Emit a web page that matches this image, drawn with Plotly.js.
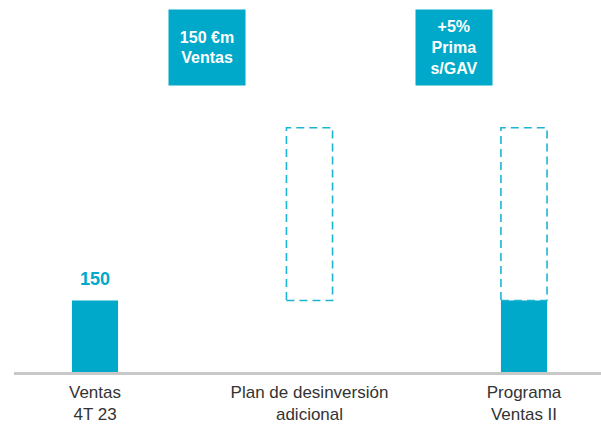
<!DOCTYPE html>
<html>
<head>
<meta charset="utf-8">
<script src="https://cdn.plot.ly/plotly-3.0.1.min.js"></script>
<style>html,body{margin:0;padding:0;background:#fff;}#chart{width:601px;height:427px;}</style>
</head>
<body>
<div id="chart"></div>
<script>
// Data
const categories = ["Ventas<br>4T 23", "Plan de desinversión<br>adicional", "Programa<br>Ventas II"];
const solidValues = [150, null, 150];
const dashedBase = [null, 150, 150];
const dashedValues = [null, 362, 362];
const valueLabels = ["150", "", ""];
const calloutTexts = ["150 €m<br>Ventas", "+5%<br>Prima<br>s/GAV"];

const TEAL = "#00a9ca";
const DASH_TEAL = "#1db4d2";
const barWidth = 0.215;
const xs = categories.map((_, i) => i);

const traces = [{
  type: "bar",
  x: xs,
  y: solidValues,
  width: barWidth,
  marker: {color: TEAL, line: {width: 0}},
  hoverinfo: "skip",
  showlegend: false
}];

const shapes = [];
dashedValues.forEach((v, i) => {
  if (v == null) return;
  shapes.push({
    type: "rect", xref: "x", yref: "y",
    x0: i - barWidth / 2, x1: i + barWidth / 2,
    y0: dashedBase[i], y1: dashedBase[i] + v,
    line: {color: DASH_TEAL, width: 1.6, dash: "8px,5px"},
    fillcolor: "rgba(0,0,0,0)"
  });
});

const annotations = [];
valueLabels.forEach((t, i) => {
  if (!t) return;
  annotations.push({
    x: i, y: solidValues[i], xref: "x", yref: "y",
    text: t, showarrow: false, yanchor: "bottom", yshift: 9,
    font: {family: "Liberation Sans, Arial, sans-serif", size: 18, color: TEAL, weight: 600}
  });
});
const calloutPos = [{x: 198 / 601, y: 1 - 47.5 / 372}, {x: 450 / 601, y: 1 - 47.5 / 372}];
calloutTexts.forEach((t, i) => {
  annotations.push({
    xref: "paper", yref: "paper", x: calloutPos[i].x, y: calloutPos[i].y,
    xanchor: "center", yanchor: "middle",
    text: "<b>" + t + "</b>", showarrow: false,
    width: 76, height: 75, borderpad: 0,
    bgcolor: TEAL, align: "center", valign: "middle",
    font: {family: "Liberation Sans, Arial, sans-serif", size: 16, color: "#ffffff"}
  });
});

const layout = {
  width: 601, height: 427,
  margin: {l: 14, r: 0, t: 0, b: 55},
  paper_bgcolor: "#ffffff", plot_bgcolor: "#ffffff",
  showlegend: false,
  font: {family: "Liberation Sans, Arial, sans-serif", size: 17, color: "#333333"},
  xaxis: {
    range: [-0.3776, 2.359], tickvals: xs, ticktext: categories,
    showgrid: false, zeroline: false, showline: true,
    linecolor: "#c8c8c8", linewidth: 2.5, ticks: "", fixedrange: true,
    ticklabelstandoff: 3,
    tickfont: {size: 17, color: "#333333"}
  },
  yaxis: {range: [0, 780], visible: false, showgrid: false, zeroline: false, fixedrange: true},
  shapes: shapes,
  annotations: annotations
};

Plotly.newPlot("chart", traces, layout, {displayModeBar: false, staticPlot: true});
</script>
</body>
</html>
